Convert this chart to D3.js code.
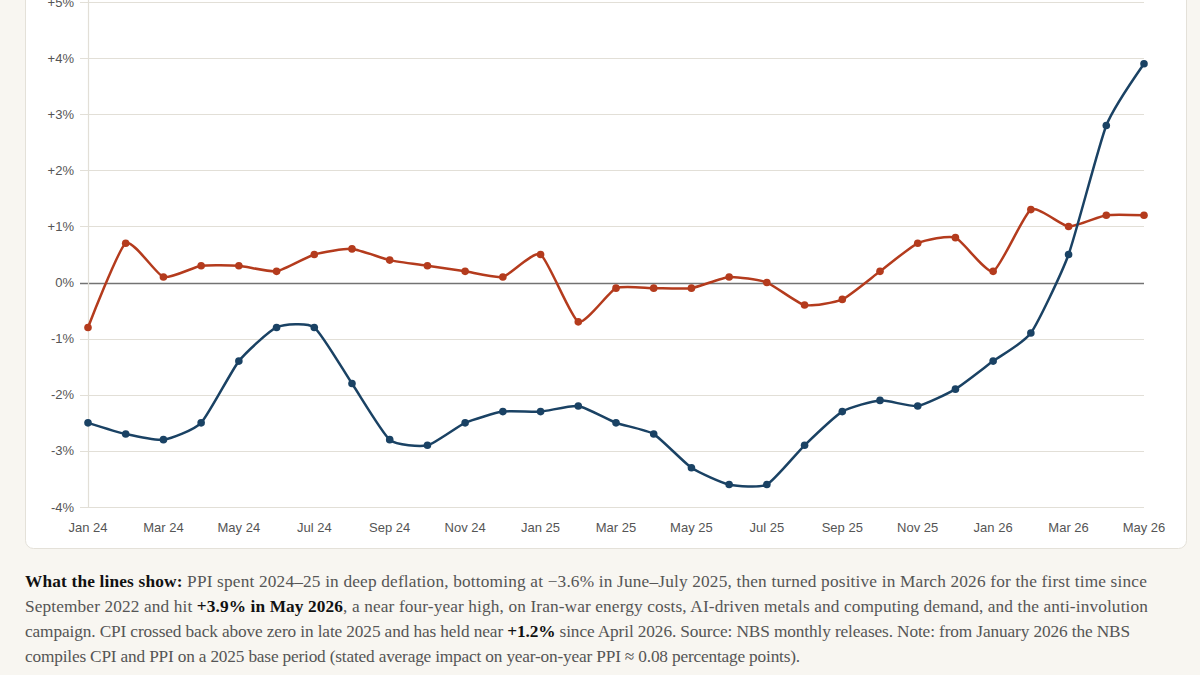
<!DOCTYPE html>
<html><head><meta charset="utf-8">
<script src="https://cdn.jsdelivr.net/npm/d3@7"></script>
<style>
html,body{margin:0;padding:0;background:#f8f6f1;}
svg{display:block;}
</style></head>
<body>
<svg id="chart" width="1200" height="675"></svg>
<script>
const months = ["Jan 24","Feb 24","Mar 24","Apr 24","May 24","Jun 24","Jul 24","Aug 24","Sep 24","Oct 24","Nov 24","Dec 24",
  "Jan 25","Feb 25","Mar 25","Apr 25","May 25","Jun 25","Jul 25","Aug 25","Sep 25","Oct 25","Nov 25","Dec 25",
  "Jan 26","Feb 26","Mar 26","Apr 26","May 26"];
const ppi = [-2.5,-2.7,-2.8,-2.5,-1.4,-0.8,-0.8,-1.8,-2.8,-2.9,-2.5,-2.3,
  -2.3,-2.2,-2.5,-2.7,-3.3,-3.6,-3.6,-2.9,-2.3,-2.1,-2.2,-1.9,
  -1.4,-0.9,0.5,2.8,3.9];
const cpi = [-0.8,0.7,0.1,0.3,0.3,0.2,0.5,0.6,0.4,0.3,0.2,0.1,
  0.5,-0.7,-0.1,-0.1,-0.1,0.1,0.0,-0.4,-0.3,0.2,0.7,0.8,
  0.2,1.3,1.0,1.2,1.2];
const yTicks = [5,4,3,2,1,0,-1,-2,-3,-4];
const yTickLabels = ["+5%","+4%","+3%","+2%","+1%","0%","-1%","-2%","-3%","-4%"];
const xTickLabels = ["Jan 24","Mar 24","May 24","Jul 24","Sep 24","Nov 24","Jan 25","Mar 25","May 25","Jul 25","Sep 25","Nov 25","Jan 26","Mar 26","May 26"];
const captionLines = [
  [["What the lines show:",true],[" PPI spent 2024–25 in deep deflation, bottoming at −3.6% in June–July 2025, then turned positive in March 2026 for the first time since",false]],
  [["September 2022 and hit ",false],["+3.9% in May 2026",true],[", a near four-year high, on Iran-war energy costs, AI-driven metals and computing demand, and the anti-involution",false]],
  [["campaign. CPI crossed back above zero in late 2025 and has held near ",false],["+1.2%",true],[" since April 2026. Source: NBS monthly releases. Note: from January 2026 the NBS",false]],
  [["compiles CPI and PPI on a 2025 base period (stated average impact on year-on-year PPI ≈ 0.08 percentage points).",false]]
];

const svg = d3.select("#chart");
const colPPI = "#1a4264", colCPI = "#b43b1d";

// panel
svg.append("rect").attr("x",25.5).attr("y",-20).attr("width",1161).attr("height",568.5)
  .attr("rx",8).attr("fill","#ffffff").attr("stroke","#e4e1d9").attr("stroke-width",1);

const x = d3.scalePoint().domain(months).range([88,1144]);
const y = d3.scaleLinear().domain([-4,5]).range([507,2]);

const g = svg.append("g");
g.selectAll("line.grid").data(yTicks).join("line")
  .attr("x1",80).attr("x2",1144)
  .attr("y1",d=>Math.round(y(d))+0.5).attr("y2",d=>Math.round(y(d))+0.5)
  .attr("stroke",d=>d===0?"#737373":"#e2dfd7")
  .attr("stroke-width",d=>d===0?1.5:1.2);
g.append("line").attr("x1",88.5).attr("x2",88.5).attr("y1",0).attr("y2",Math.round(y(-4)))
  .attr("stroke","#e2dfd7").attr("stroke-width",1.2);
g.selectAll("text.yl").data(yTicks).join("text")
  .attr("x",74).attr("y",d=>y(d)).attr("dy","0.35em").attr("text-anchor","end")
  .attr("font-family","Liberation Sans, Arial, sans-serif").attr("font-size",13).attr("fill","#555")
  .text((d,i)=>yTickLabels[i]);
g.selectAll("text.xl").data(xTickLabels).join("text")
  .attr("x",d=>x(d)).attr("y",532).attr("text-anchor","middle")
  .attr("font-family","Liberation Sans, Arial, sans-serif").attr("font-size",13).attr("fill","#555")
  .text(d=>d);

const line = d3.line().x((d,i)=>x(months[i])).y(d=>y(d)).curve(d3.curveCardinal.tension(0.45));
function drawSeries(vals,col){
  g.append("path").attr("d",line(vals)).attr("fill","none").attr("stroke",col)
    .attr("stroke-width",2.5).attr("stroke-linejoin","round");
  g.selectAll(null).data(vals).join("circle")
    .attr("cx",(d,i)=>x(months[i])).attr("cy",d=>y(d)).attr("r",3.8).attr("fill",col);
}
drawSeries(cpi,colCPI);
drawSeries(ppi,colPPI);

// caption
const cap = svg.append("g");
captionLines.forEach((ln,i)=>{
  const t = cap.append("text").attr("x",25).attr("y",587+i*25)
    .attr("font-family","Liberation Serif, Times New Roman, serif").attr("font-size",17).attr("fill","#555");
  ln.forEach(([s,b])=>{
    t.append("tspan").text(s).attr("font-weight",b?"700":"400").attr("fill",b?"#111":"#555");
  });
});
const targets = [1122,1123,1105,775];
const texts = cap.selectAll("text").nodes();
const natural = texts.map(t=>t.getComputedTextLength());
const fs = 17*d3.sum(targets)/d3.sum(natural);
cap.selectAll("text").attr("font-size",fs);
texts.forEach((t,i)=>{
  const w = t.getComputedTextLength();
  const n = t.textContent.length;
  d3.select(t).attr("letter-spacing",(targets[i]-w)/n);
});
</script>
</body></html>
